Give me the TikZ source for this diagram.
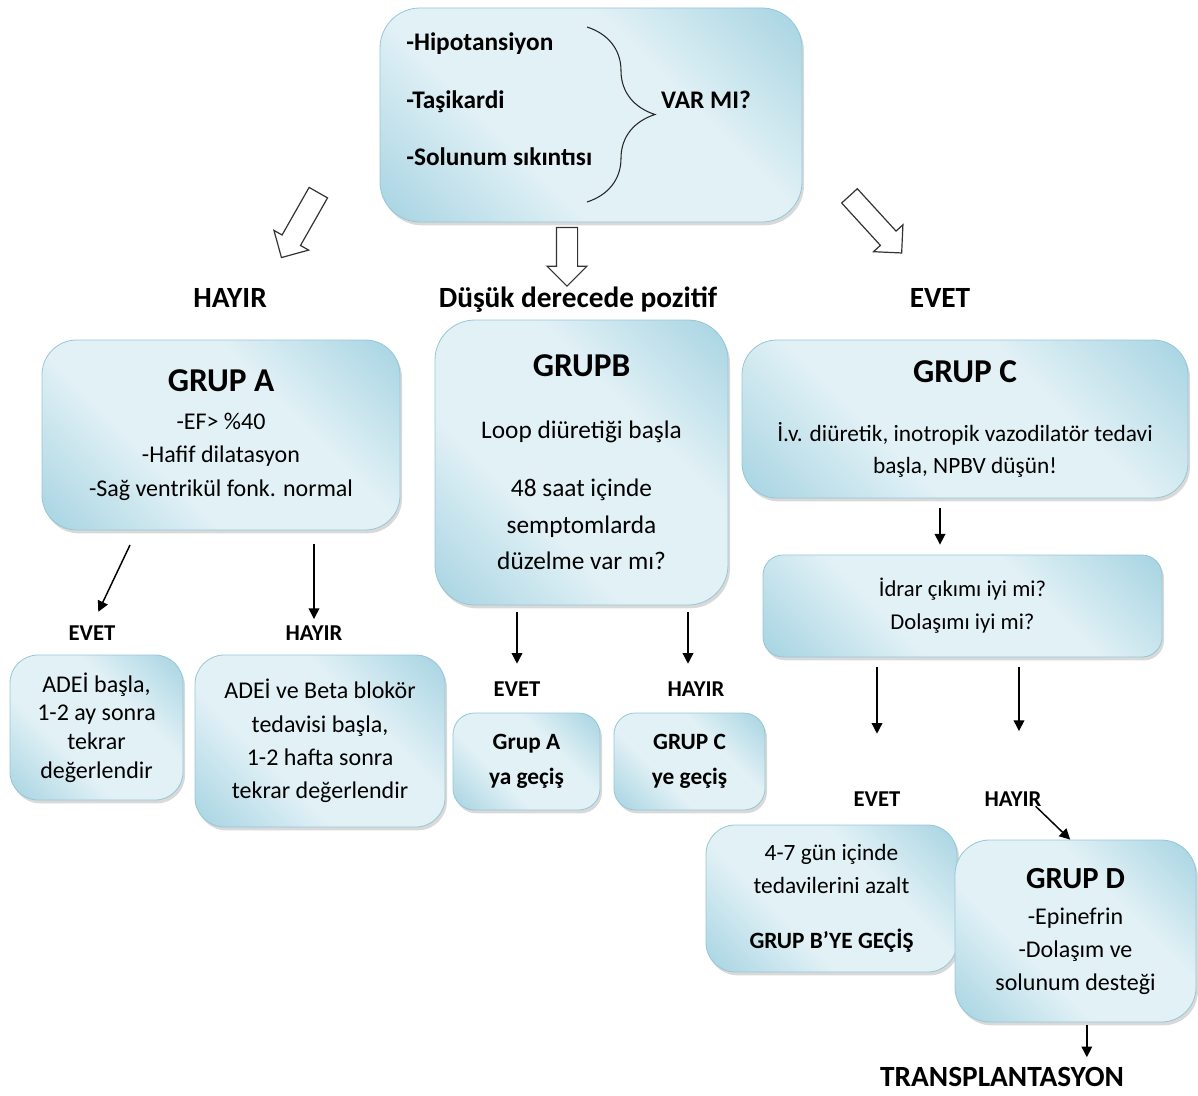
\documentclass[tikz,border=0pt]{standalone}
\usepackage{fontspec}
\setmainfont{Carlito}
\usepackage{tikz}
\usetikzlibrary{shapes.arrows, shadows, decorations.pathreplacing, arrows.meta}

\definecolor{boxdark}{RGB}{128,193,213}
\definecolor{boxlight}{RGB}{226,241,246}
\definecolor{boxedge}{RGB}{150,198,214}
\pgfdeclarehorizontalshading{boxshade}{100bp}{color(0bp)=(boxdark); color(38bp)=(boxlight); color(62bp)=(boxlight); color(100bp)=(boxdark)}

\tikzset{
  grbox/.style={rounded corners=24pt, shading=boxshade, shading angle=45, draw=boxedge, line width=0.6pt,
    drop shadow={opacity=0.3, shadow xshift=1.5pt, shadow yshift=-2.5pt}, align=center, inner sep=0pt,
    font=\fontsize{18}{25}\selectfont},
  lbl/.style={font=\bfseries\fontsize{22}{26}\selectfont, inner sep=0pt, anchor=base},
  sublbl/.style={font=\bfseries\fontsize{17}{20}\selectfont, inner sep=0pt, anchor=base},
  arr/.style={line width=1.1pt, -{Triangle[length=8pt,width=8pt]}},
  hollow/.style={single arrow, draw=black!80, fill=white, line width=0.9pt, minimum width=29pt,
    single arrow head extend=7pt, inner xsep=0pt, inner ysep=7.5pt}
}
\newcommand{\grtitle}[2][25]{{\bfseries\fontsize{#1}{#1}\selectfont #2}}

\begin{document}
\begin{tikzpicture}[x=0.75pt,y=0.75pt,yscale=-1,xscale=1]
\useasboundingbox (0,0) rectangle (1198,1095);

% top question
\node[grbox, rounded corners=30pt, minimum width=316.5pt, minimum height=160.5pt] (top) at (591,115) {};
\node[anchor=west, align=left, inner sep=0pt, font=\bfseries\fontsize{19}{43}\selectfont] (belirti) at (406,99.5)
  {-Hipotansiyon\\-Taşikardi\\-Solunum sıkıntısı};
\draw[decorate, decoration={brace, amplitude=51pt}, line width=0.8pt, black!85] (587,27) -- (587,202);
\node[font=\bfseries\fontsize{19}{22}\selectfont, inner sep=0pt] (varmi) at (706,99.5) {VAR MI?};

% hollow arrows
\coordinate (hlT) at (321,188); \coordinate (hlH) at (284,253);
\coordinate (hmT) at (567,222); \coordinate (hmH) at (567,281);
\coordinate (hrT) at (846,192); \coordinate (hrH) at (898,249);
\path (hlT) -- node[hollow, rotate=-119.6, minimum height=56pt] (hollowL) {} (hlH);
\path (hmT) -- node[hollow, rotate=-90, minimum height=44pt] (hollowM) {} (hmH);
\path (hrT) -- node[hollow, rotate=-47.6, minimum height=58pt] (hollowR) {} (hrH);

\node[lbl] (hayir) at (230,307) {HAYIR};
\node[lbl] (dusuk) at (578,307) {Düşük derecede pozitif};
\node[lbl] (evet) at (940,307) {EVET};

% group boxes
\node[grbox, rounded corners=26pt, minimum width=268.5pt, minimum height=142.5pt] (grupA) at (221,435)
  {\grtitle{GRUP A}\\[3.5pt] -EF> \%40\\ -Hafif dilatasyon\\ -Sağ ventrikül fonk. normal};
\node[grbox, rounded corners=30pt, minimum width=219.75pt, minimum height=213.75pt,
  font=\fontsize{19}{27.4}\selectfont] (grupB) at (581.5,462.5)
  {\grtitle{GRUPB}\\[19pt] Loop diüretiği başla\\[16pt] 48 saat içinde\\ semptomlarda\\ düzelme var mı?};
\node[grbox, rounded corners=26pt, minimum width=334.5pt, minimum height=118.5pt,
  font=\fontsize{17.5}{24}\selectfont] (grupC) at (965,419)
  {\grtitle{GRUP C}\\[20.6pt] İ.v. diüretik, inotropik vazodilatör tedavi\\ başla, NPBV düşün!};
\node[grbox, rounded corners=15pt, minimum width=299.25pt, minimum height=76.5pt,
  font=\fontsize{17}{24.75}\selectfont] (idrar) at (962.5,606)
  {İdrar çıkımı iyi mi?\\ Dolaşımı iyi mi?};

% second level
\node[sublbl] (evetA) at (92,640) {EVET};
\node[sublbl] (hayirA) at (314,640) {HAYIR};
\node[sublbl] (evetB) at (517,696) {EVET};
\node[sublbl] (hayirB) at (696,696) {HAYIR};
\node[sublbl] (evetC) at (877,806) {EVET};
\node[sublbl] (hayirC) at (1013,806) {HAYIR};

\node[grbox, rounded corners=21pt, minimum width=129.75pt, minimum height=108.75pt,
  font=\fontsize{18}{21.5}\selectfont] (adeiA) at (96.5,727.5)
  {ADEİ başla,\\ 1-2 ay sonra\\ tekrar\\ değerlendir};
\node[grbox, rounded corners=22pt, minimum width=187.5pt, minimum height=129pt] (adeiB) at (320,741)
  {ADEİ ve Beta blokör\\ tedavisi başla,\\ 1-2 hafta sonra\\ tekrar değerlendir};
\node[grbox, rounded corners=16pt, minimum width=110.25pt, minimum height=72.75pt,
  font=\bfseries\fontsize{17.5}{26}\selectfont] (gecisA) at (526.5,761.5)
  {Grup A\\ ya geçiş};
\node[grbox, rounded corners=16pt, minimum width=113.25pt, minimum height=72.75pt,
  font=\bfseries\fontsize{17.5}{26}\selectfont] (gecisC) at (689.5,761.5)
  {GRUP C\\ ye geçiş};
\node[grbox, rounded corners=22pt, minimum width=188.25pt, minimum height=110.25pt,
  font=\fontsize{17.5}{24.75}\selectfont] (azalt) at (831.5,898.5)
  {4-7 gün içinde\\ tedavilerini azalt\\[16.5pt] \textbf{GRUP B’YE GEÇİŞ}};
\node[grbox, rounded corners=26pt, minimum width=180.75pt, minimum height=136.5pt,
  font=\fontsize{18}{24.75}\selectfont] (grupD) at (1075.5,931)
  {\grtitle[23]{GRUP D}\\[2.25pt] -Epinefrin\\ -Dolaşım ve\\ solunum desteği};

\node[lbl] (transplant) at (1002,1086) {TRANSPLANTASYON};

% thin arrows
\coordinate (tailEA) at (130,545);
\draw[arr, shorten >=11pt] (tailEA) -- (evetA.north);
\draw[arr, shorten <=10pt, shorten >=4.5pt] (hayirA.north |- grupA.south) -- (hayirA.north);
\draw[arr, shorten <=5pt, shorten >=13pt] (evetB.north |- grupB.south) -- (evetB.north);
\draw[arr, shorten <=5pt, shorten >=13pt] ([xshift=-6pt]hayirB.north |- grupB.south) -- ([xshift=-6pt]hayirB.north);
\draw[arr, shorten <=7.5pt, shorten >=7.5pt] (grupC.south -| evet) -- (idrar.north -| evet);
\draw[arr, shorten <=7.5pt, shorten >=43pt] (idrar.south -| evetC) -- (evetC.north);
\draw[arr, shorten <=7.5pt, shorten >=45pt] ([xshift=4.5pt]idrar.south -| hayirC) -- ([xshift=4.5pt]hayirC.north);
\draw[arr] ([xshift=-4.5pt]hayirC.south east) -- ([xshift=-4pt]grupD.north);
\draw[arr, shorten <=2pt, shorten >=7pt] ([xshift=8.5pt]grupD.south) -- ([xshift=8.5pt]grupD.south |- transplant.north);

\end{tikzpicture}
\end{document}
